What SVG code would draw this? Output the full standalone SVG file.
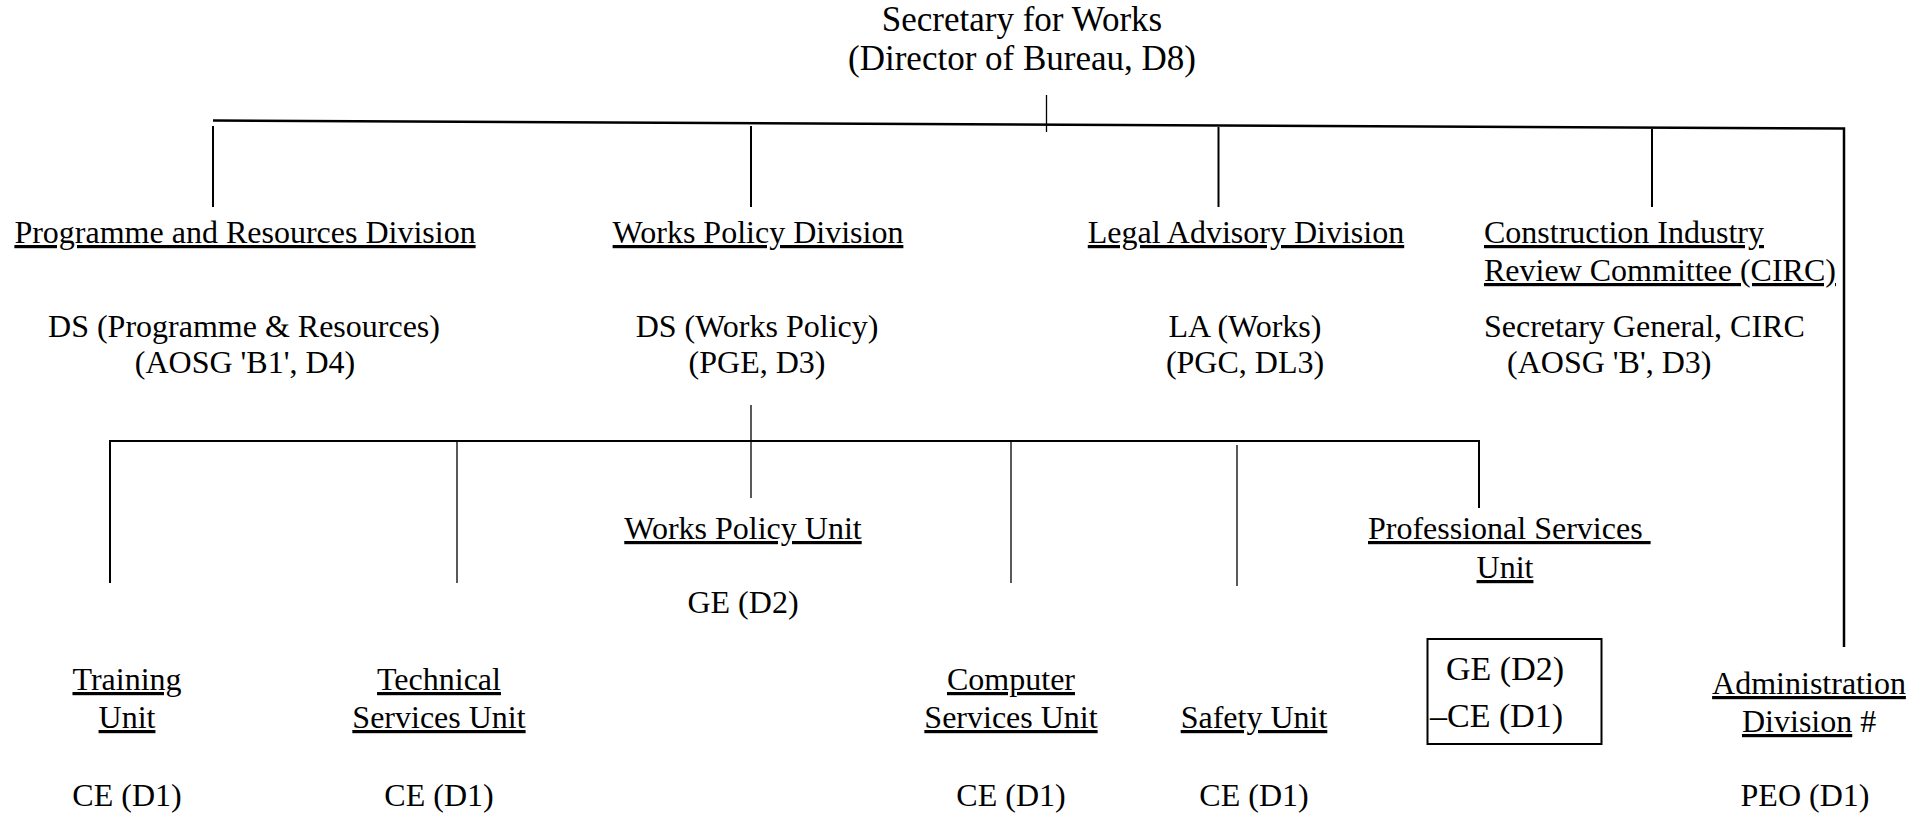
<svg xmlns="http://www.w3.org/2000/svg" width="1926" height="815" viewBox="0 0 1926 815">
<style>
text { font-family: "Liberation Serif", "Times New Roman", serif; font-size: 32px; fill: #000; }
.t { font-size: 35px; }
.b { font-size: 34px; }
.m { text-anchor: middle; }
.u { text-decoration: underline; text-decoration-thickness: 2.5px; text-underline-offset: 4px; }
.c { stroke: #000; stroke-width: 2; fill: none; }
.thin { stroke-width: 1.3; }
.thick { stroke-width: 2.5; }
.box { stroke: #000; stroke-width: 2; fill: none; }
</style>
<rect width="1926" height="815" fill="#fff"/>
<g id="connectors">
  <path class="c thick" d="M213 120.5 L1844 128.5 L1844 647"/>
  <path class="c thin" d="M1046.5 95 V132"/>
  <path class="c" d="M213 126 V207 M751 126 V207 M1218.5 127 V207 M1652 129 V207"/>
  <path class="c thin" d="M751 405 V498"/>
  <path class="c" d="M110 583 V441 H1479 V508"/>
  <path class="c thin" d="M457 441 V583 M1011 441 V583 M1237 445 V586"/>
</g>
<g id="secretary">
  <text class="t m" x="1022" y="31">Secretary for Works</text>
  <text class="t m" x="1022" y="70">(Director of Bureau, D8)</text>
</g>
<g id="programme-resources">
  <text class="m u" x="245" y="243">Programme and Resources Division</text>
  <text class="m" x="244" y="337">DS (Programme &amp; Resources)</text>
  <text class="m" x="245" y="373">(AOSG 'B1', D4)</text>
</g>
<g id="works-policy-division">
  <text class="m u" x="758" y="243">Works Policy Division</text>
  <text class="m" x="757" y="337">DS (Works Policy)</text>
  <text class="m" x="757" y="373">(PGE, D3)</text>
</g>
<g id="legal-advisory">
  <text class="m u" x="1246" y="243">Legal Advisory Division</text>
  <text class="m" x="1245" y="337">LA (Works)</text>
  <text class="m" x="1245" y="373">(PGC, DL3)</text>
</g>
<g id="circ">
  <text class="u" x="1484" y="243">Construction Industry</text>
  <text class="u" x="1484" y="281">Review Committee (CIRC)</text>
  <text x="1484" y="337">Secretary General, CIRC</text>
  <text x="1507" y="373">(AOSG 'B', D3)</text>
</g>
<g id="works-policy-unit">
  <text class="m u" x="743" y="539">Works Policy Unit</text>
  <text class="m" x="743" y="613">GE (D2)</text>
</g>
<g id="professional-services">
  <text class="u" x="1368" y="539" xml:space="preserve">Professional Services </text>
  <text class="m u" x="1505" y="578">Unit</text>
  <rect class="box" x="1427.5" y="639" width="174" height="105"/>
  <text class="b" x="1446" y="680">GE (D2)</text>
  <text class="b" x="1430" y="727">–CE (D1)</text>
</g>
<g id="training">
  <text class="m u" x="127" y="690">Training</text>
  <text class="m u" x="127" y="728">Unit</text>
  <text class="m" x="127" y="806">CE (D1)</text>
</g>
<g id="technical">
  <text class="m u" x="439" y="690">Technical</text>
  <text class="m u" x="439" y="728">Services Unit</text>
  <text class="m" x="439" y="806">CE (D1)</text>
</g>
<g id="computer">
  <text class="m u" x="1011" y="690">Computer</text>
  <text class="m u" x="1011" y="728">Services Unit</text>
  <text class="m" x="1011" y="806">CE (D1)</text>
</g>
<g id="safety">
  <text class="m u" x="1254" y="728">Safety Unit</text>
  <text class="m" x="1254" y="806">CE (D1)</text>
</g>
<g id="administration">
  <text class="m u" x="1809" y="694">Administration</text>
  <text x="1742" y="732"><tspan class="u">Division</tspan> #</text>
  <text class="m" x="1805" y="806">PEO (D1)</text>
</g>
</svg>
